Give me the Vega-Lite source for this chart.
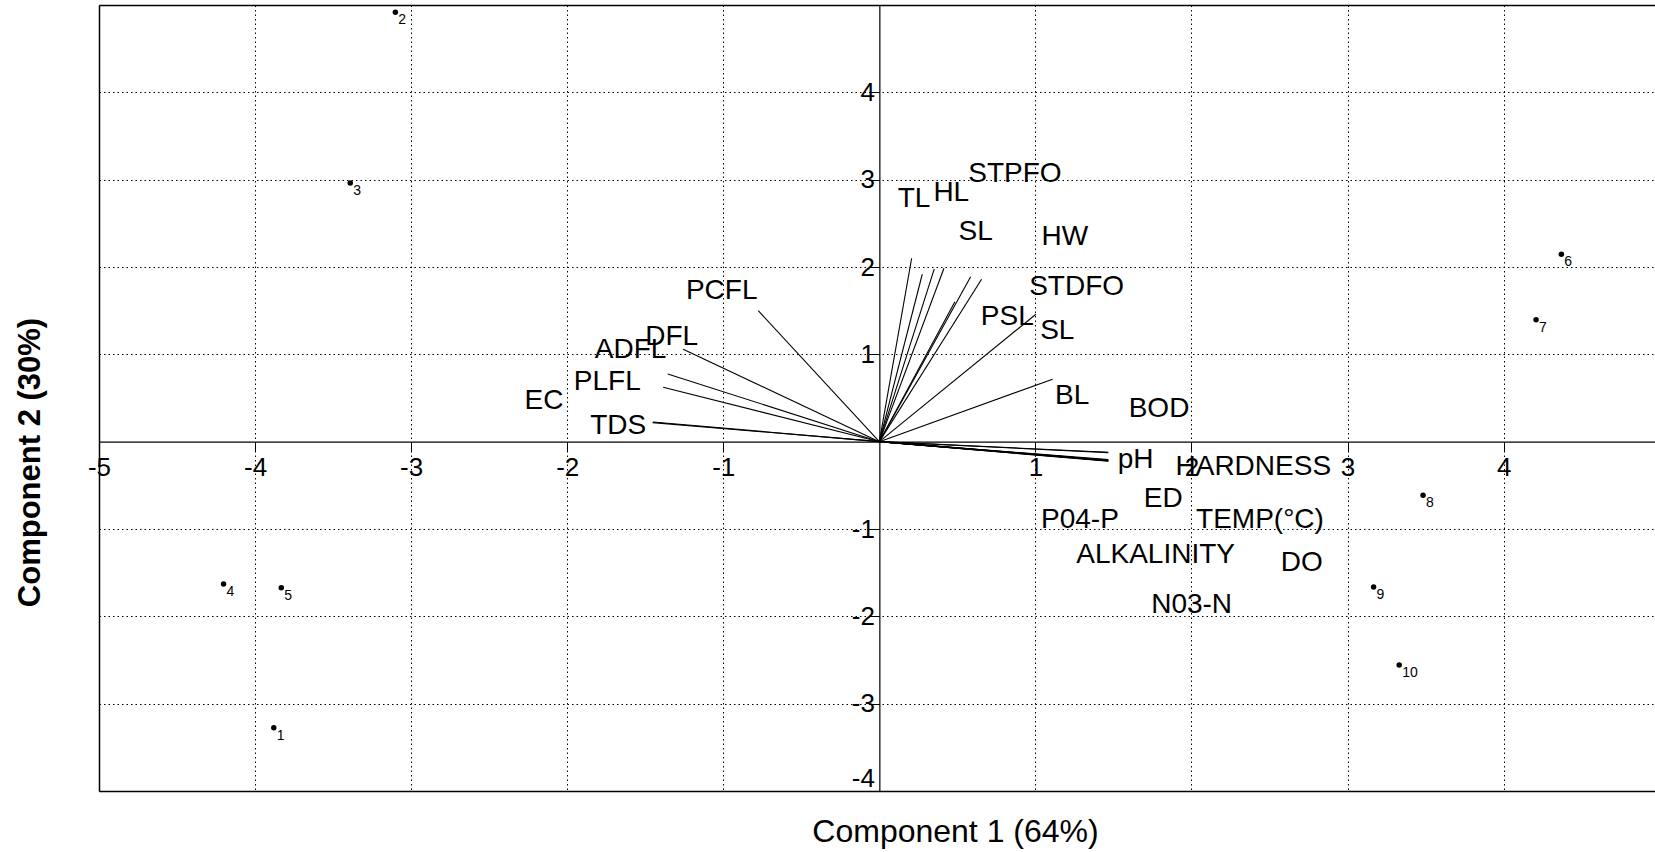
{
  "$schema": "https://vega.github.io/schema/vega-lite/v6.json",
  "width": 1556,
  "height": 786,
  "autosize": {"type": "none"},
  "padding": {"left": 99, "top": 5, "right": 0, "bottom": 61},
  "background": "white",
  "config": {"font": "Liberation Sans", "view": {"stroke": null}},
  "resolve": {"axis": {"x": "independent", "y": "independent"}},
  "datasets": {
    "loadings": [
      {"name": "EC", "x": -1.45, "y": 0.225, "lx": -2.149, "ly": 0.466},
      {"name": "TDS", "x": -1.453, "y": 0.218, "lx": -1.673, "ly": 0.183},
      {"name": "PLFL", "x": -1.385, "y": 0.623, "lx": -1.743, "ly": 0.68},
      {"name": "ADFL", "x": -1.356, "y": 0.775, "lx": -1.594, "ly": 1.05},
      {"name": "DFL", "x": -1.257, "y": 1.058, "lx": -1.331, "ly": 1.202},
      {"name": "PCFL", "x": -0.776, "y": 1.5, "lx": -1.01, "ly": 1.729},
      {"name": "TL", "x": 0.207, "y": 2.1, "lx": 0.222, "ly": 2.776},
      {"name": "HL", "x": 0.275, "y": 1.917, "lx": 0.461, "ly": 2.851},
      {"name": "STPFO", "x": 0.352, "y": 1.978, "lx": 0.869, "ly": 3.065},
      {"name": "SL", "x": 0.414, "y": 1.986, "lx": 0.617, "ly": 2.405},
      {"name": "HW", "x": 0.585, "y": 1.889, "lx": 1.189, "ly": 2.347},
      {"name": "STDFO", "x": 0.655, "y": 1.86, "lx": 1.264, "ly": 1.766},
      {"name": "PSL", "x": 1.003, "y": 1.459, "lx": 0.82, "ly": 1.424},
      {"name": "SL", "x": 0.484, "y": 1.603, "lx": 1.14, "ly": 1.271},
      {"name": "BL", "x": 1.11, "y": 0.715, "lx": 1.236, "ly": 0.527},
      {"name": "BOD", "x": 1.467, "y": -0.121, "lx": 1.792, "ly": 0.371},
      {"name": "pH", "x": 1.467, "y": -0.125, "lx": 1.642, "ly": -0.21},
      {"name": "HARDNESS", "x": 1.467, "y": -0.205, "lx": 2.396, "ly": -0.286},
      {"name": "ED", "x": 1.467, "y": -0.21, "lx": 1.819, "ly": -0.656},
      {"name": "P04-P", "x": 1.467, "y": -0.215, "lx": 1.285, "ly": -0.897},
      {"name": "TEMP(°C)", "x": 1.467, "y": -0.218, "lx": 2.439, "ly": -0.897},
      {"name": "ALKALINITY", "x": 1.467, "y": -0.221, "lx": 1.77, "ly": -1.297},
      {"name": "DO", "x": 1.467, "y": -0.224, "lx": 2.706, "ly": -1.392},
      {"name": "N03-N", "x": 1.467, "y": -0.212, "lx": 2.001, "ly": -1.87}
    ],
    "scores": [
      {"id": "1", "x": -3.88, "y": -3.275},
      {"id": "2", "x": -3.101, "y": 4.917},
      {"id": "3", "x": -3.39, "y": 2.962},
      {"id": "4", "x": -4.202, "y": -1.629},
      {"id": "5", "x": -3.832, "y": -1.672},
      {"id": "6", "x": 4.37, "y": 2.146},
      {"id": "7", "x": 4.208, "y": 1.397},
      {"id": "8", "x": 3.484, "y": -0.614},
      {"id": "9", "x": 3.167, "y": -1.664},
      {"id": "10", "x": 3.331, "y": -2.557}
    ]
  },
  "layer": [
    {
      "data": {"name": "loadings"},
      "mark": {"type": "rule", "color": "#000", "strokeWidth": 1.1},
      "encoding": {
        "x": {"field": "x", "type": "quantitative",
          "scale": {"domain": [-5, 4.97], "nice": false, "zero": false},
          "axis": {
            "title": "Component 1 (64%)", "orient": "bottom", "offset": -349.33,
            "values": [-5, -4, -3, -2, -1, 1, 2, 3, 4],
            "labelExpr": "'' + datum.value",
            "grid": true, "gridColor": "#000", "gridDash": [1.5, 3], "gridWidth": 1, "gridOpacity": 1,
            "domain": true, "domainColor": "#000", "domainWidth": 1.2,
            "ticks": true, "tickColor": "#000", "tickSize": 10, "tickWidth": 1,
            "labelFontSize": 26, "labelColor": "#000", "labelPadding": 3, "labelFlush": false, "labelOverlap": false,
            "titleFontSize": 32, "titleFontWeight": "normal", "titleColor": "#000",
            "titleX": 856, "titleY": 390, "titleAlign": "center", "titleBaseline": "middle", "titleAngle": 0
          }
        },
        "y": {"field": "y", "type": "quantitative",
          "scale": {"domain": [-4, 5], "nice": false, "zero": false},
          "axis": {
            "title": "Component 2 (30%)", "orient": "left", "offset": -780.35,
            "values": [-4, -3, -2, -1, 1, 2, 3, 4],
            "labelExpr": "'' + datum.value",
            "grid": true, "gridColor": "#000", "gridDash": [1.5, 3], "gridWidth": 1, "gridOpacity": 1,
            "domain": true, "domainColor": "#000", "domainWidth": 1.2,
            "ticks": true, "tickColor": "#000", "tickSize": 10, "tickWidth": 1,
            "labelFontSize": 26, "labelColor": "#000", "labelPadding": -5, "labelFlush": true, "labelOverlap": false,
            "titleFontSize": 31, "titleFontWeight": "bold", "titleColor": "#000",
            "titleX": -848.4, "titleY": 457, "titleAlign": "center", "titleBaseline": "middle", "titleAngle": -90
          }
        },
        "x2": {"datum": 0},
        "y2": {"datum": 0}
      }
    },
    {
      "data": {"name": "loadings"},
      "mark": {"type": "text", "fontSize": 28, "align": "center", "baseline": "middle", "color": "#000"},
      "encoding": {
        "x": {"field": "lx", "type": "quantitative", "scale": {"domain": [-5, 4.97], "nice": false, "zero": false},
          "axis": {"orient": "top", "title": null, "labels": false, "ticks": false, "grid": false, "domain": true, "domainColor": "#000", "domainWidth": 1.5}},
        "y": {"field": "ly", "type": "quantitative", "scale": {"domain": [-4, 5], "nice": false, "zero": false},
          "axis": {"orient": "left", "title": null, "labels": false, "ticks": false, "grid": false, "domain": true, "domainColor": "#000", "domainWidth": 1.5}},
        "text": {"field": "name"}
      }
    },
    {
      "data": {"name": "scores"},
      "mark": {"type": "circle", "size": 30, "color": "#000", "opacity": 1},
      "encoding": {
        "x": {"field": "x", "type": "quantitative", "scale": {"domain": [-5, 4.97], "nice": false, "zero": false},
          "axis": {"orient": "bottom", "title": null, "labels": false, "ticks": false, "grid": false, "domain": true, "domainColor": "#000", "domainWidth": 1.5}},
        "y": {"field": "y", "type": "quantitative", "scale": {"domain": [-4, 5], "nice": false, "zero": false}, "axis": null}
      }
    },
    {
      "data": {"name": "scores"},
      "mark": {"type": "text", "fontSize": 14, "align": "left", "baseline": "top", "dx": 3, "dy": 1, "color": "#000"},
      "encoding": {
        "x": {"field": "x", "type": "quantitative", "scale": {"domain": [-5, 4.97], "nice": false, "zero": false}, "axis": null},
        "y": {"field": "y", "type": "quantitative", "scale": {"domain": [-4, 5], "nice": false, "zero": false}, "axis": null},
        "text": {"field": "id"}
      }
    }
  ]
}
